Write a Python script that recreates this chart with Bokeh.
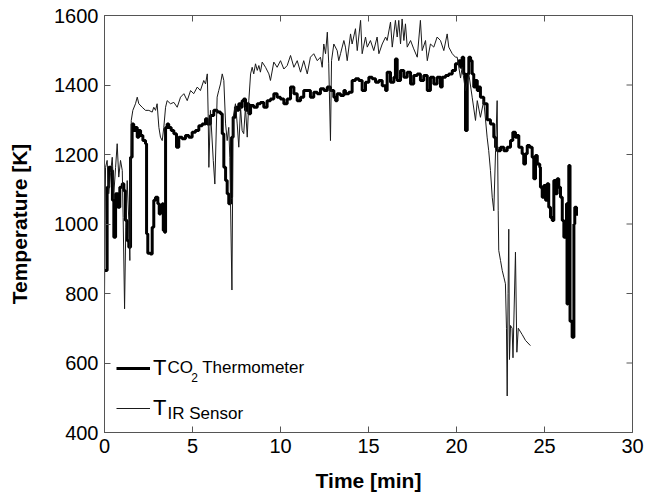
from bokeh.plotting import figure
from bokeh.models import FixedTicker, Range1d, Legend, LegendItem, Label
from bokeh.embed import file_html
from bokeh.resources import INLINE

# ---- data (time in min, temperature in K) ----
x_ticks = [0, 5, 10, 15, 20, 25, 30]
y_ticks = [400, 600, 800, 1000, 1200, 1400, 1600]

co2_points = [
    (0.00, 866), (0.11, 866), (0.15, 1106), (0.24, 1163), (0.38, 1154), (0.45, 1068), (0.53, 962),
    (0.63, 1087), (0.76, 1048), (0.87, 1106), (1.01, 1116), (1.10, 1096), (1.19, 1010), (1.29, 952),
    (1.38, 933), (1.48, 1192), (1.57, 1288), (1.66, 1269), (1.76, 1278), (1.86, 1250), (1.95, 1269),
    (2.05, 1255), (2.18, 1240), (2.33, 1231), (2.39, 972), (2.46, 916), (2.61, 914), (2.71, 991),
    (2.80, 1068), (2.90, 1077), (3.03, 1058), (3.11, 1029), (3.18, 1048), (3.28, 1058), (3.34, 981),
    (3.41, 976), (3.47, 1278), (3.56, 1288), (3.65, 1278), (3.79, 1269), (3.94, 1260), (4.09, 1221),
    (4.22, 1250), (4.41, 1245), (4.60, 1255), (4.79, 1250), (4.98, 1264), (5.17, 1269), (5.36, 1283),
    (5.55, 1288), (5.74, 1303), (5.84, 1288), (6.02, 1312), (6.21, 1327), (6.40, 1322), (6.59, 1317),
    (6.69, 1260), (6.78, 1163), (6.88, 1125), (6.97, 1087), (7.06, 1058), (7.16, 1077), (7.22, 1250),
    (7.31, 1307), (7.44, 1336), (7.54, 1327), (7.63, 1346), (7.73, 1336), (7.82, 1355), (7.91, 1360),
    (8.01, 1327), (8.11, 1346), (8.20, 1317), (8.30, 1341), (8.48, 1336), (8.68, 1346), (8.86, 1350),
    (9.05, 1336), (9.24, 1355), (9.43, 1360), (9.62, 1375), (9.81, 1365), (10.00, 1360), (10.19, 1346),
    (10.38, 1360), (10.57, 1394), (10.76, 1375), (10.95, 1355), (11.14, 1365), (11.32, 1384),
    (11.52, 1384), (11.70, 1365), (11.89, 1379), (12.09, 1375), (12.27, 1389), (12.47, 1384),
    (12.66, 1394), (12.84, 1384), (13.03, 1365), (13.13, 1355), (13.22, 1375), (13.41, 1370),
    (13.60, 1384), (13.69, 1375), (13.88, 1379), (14.07, 1413), (14.26, 1418), (14.45, 1413),
    (14.64, 1384), (14.83, 1408), (15.02, 1422), (15.21, 1418), (15.40, 1408), (15.59, 1413),
    (15.78, 1398), (15.97, 1384), (16.06, 1437), (16.25, 1408), (16.44, 1422), (16.53, 1475),
    (16.63, 1413), (16.82, 1442), (17.01, 1422), (17.20, 1437), (17.39, 1403), (17.57, 1427),
    (17.77, 1432), (17.95, 1413), (18.14, 1427), (18.34, 1384), (18.52, 1422), (18.71, 1403),
    (18.90, 1422), (19.09, 1394), (19.19, 1422), (19.38, 1427), (19.56, 1432), (19.76, 1442),
    (19.94, 1461), (20.13, 1470), (20.23, 1451), (20.32, 1480), (20.41, 1432), (20.51, 1269),
    (20.61, 1432), (20.70, 1480), (20.80, 1470), (20.89, 1432), (20.98, 1394), (21.08, 1413),
    (21.18, 1384), (21.27, 1394), (21.36, 1365), (21.55, 1346), (21.74, 1300), (21.93, 1288),
    (22.12, 1250), (22.22, 1221), (22.31, 1211), (22.50, 1221), (22.69, 1211), (22.88, 1221),
    (23.07, 1240), (23.20, 1264), (23.35, 1250), (23.45, 1255), (23.54, 1221), (23.73, 1202),
    (23.82, 1173), (23.92, 1202), (24.02, 1226), (24.16, 1221), (24.30, 1192), (24.39, 1130),
    (24.49, 1197), (24.59, 1173), (24.73, 1163), (24.77, 1106), (24.87, 1077), (24.96, 1111),
    (25.06, 1068), (25.15, 1116), (25.24, 1048), (25.34, 1019), (25.44, 1010), (25.53, 1125),
    (25.63, 1087), (25.72, 1130), (25.81, 1106), (25.91, 1077), (26.01, 1010), (26.10, 962),
    (26.19, 1000), (26.25, 1058), (26.28, 770), (26.32, 780), (26.38, 1168), (26.45, 720),
    (26.57, 674), (26.67, 1000), (26.72, 1048), (26.82, 1024),
]

ir_points = [
    (0.00, 785), (0.03, 1010), (0.06, 1163), (0.15, 1183), (0.24, 1087), (0.34, 1144), (0.44, 1192),
    (0.53, 1087), (0.63, 1163), (0.72, 1231), (0.81, 1135), (0.91, 1183), (1.01, 1154), (1.06, 1019),
    (1.14, 756), (1.21, 991), (1.29, 1125), (1.38, 1010), (1.44, 895), (1.52, 1298), (1.61, 1327),
    (1.76, 1346), (1.86, 1365), (1.95, 1346), (2.14, 1336), (2.33, 1327), (2.52, 1327), (2.71, 1322),
    (2.80, 1336), (2.90, 1327), (2.99, 1346), (3.09, 1278), (3.18, 1250), (3.28, 1240), (3.37, 1278),
    (3.47, 1336), (3.56, 1355), (3.75, 1346), (3.94, 1350), (4.13, 1336), (4.32, 1365), (4.51, 1375),
    (4.70, 1355), (4.89, 1384), (5.07, 1375), (5.27, 1394), (5.45, 1384), (5.64, 1413), (5.74, 1403),
    (5.84, 1432), (5.89, 1317), (5.93, 1163), (6.02, 1327), (6.18, 1183), (6.27, 1115), (6.40, 1365),
    (6.49, 1384), (6.59, 1403), (6.69, 1432), (6.78, 1413), (6.88, 1288), (6.97, 1240), (7.06, 1278),
    (7.12, 1192), (7.24, 810), (7.31, 1307), (7.44, 1346), (7.54, 1288), (7.63, 1221), (7.73, 1336),
    (7.82, 1269), (7.91, 1260), (8.01, 1336), (8.11, 1250), (8.20, 1355), (8.30, 1432), (8.39, 1451),
    (8.48, 1432), (8.58, 1461), (8.68, 1442), (8.77, 1456), (8.86, 1437), (8.96, 1466), (9.15, 1451),
    (9.34, 1432), (9.43, 1413), (9.62, 1466), (9.81, 1451), (10.00, 1470), (10.19, 1446),
    (10.38, 1456), (10.57, 1485), (10.76, 1451), (10.95, 1470), (11.14, 1437), (11.32, 1470),
    (11.52, 1432), (11.70, 1480), (11.89, 1490), (12.09, 1470), (12.27, 1480), (12.37, 1451),
    (12.46, 1518), (12.56, 1490), (12.66, 1552), (12.74, 1461), (12.84, 1240), (12.90, 1470),
    (13.03, 1518), (13.22, 1499), (13.31, 1470), (13.41, 1490), (13.60, 1528), (13.69, 1509),
    (13.79, 1470), (13.98, 1547), (14.07, 1518), (14.26, 1562), (14.36, 1499), (14.55, 1586),
    (14.64, 1490), (14.83, 1538), (14.93, 1509), (15.11, 1528), (15.30, 1499), (15.49, 1538),
    (15.59, 1490), (15.78, 1518), (15.97, 1538), (16.06, 1528), (16.25, 1581), (16.35, 1509),
    (16.53, 1586), (16.63, 1538), (16.72, 1586), (16.82, 1518), (16.91, 1590), (17.01, 1528),
    (17.10, 1576), (17.20, 1509), (17.39, 1528), (17.57, 1504), (17.77, 1480), (17.95, 1586),
    (18.05, 1499), (18.24, 1528), (18.34, 1470), (18.52, 1518), (18.71, 1509), (18.90, 1538),
    (19.09, 1528), (19.28, 1499), (19.47, 1547), (19.56, 1509), (19.76, 1490), (19.94, 1480),
    (20.04, 1480), (20.23, 1420), (20.32, 1451), (20.51, 1384), (20.70, 1432), (20.89, 1365),
    (21.08, 1298), (21.18, 1355), (21.36, 1307), (21.55, 1355), (21.74, 1250), (21.83, 1211),
    (21.93, 1154), (22.03, 1077), (22.12, 1038), (22.22, 1211), (22.31, 1355), (22.37, 1038),
    (22.40, 924), (22.50, 895), (22.60, 866), (22.69, 847), (22.78, 828), (22.84, 700), (22.88, 505),
    (22.93, 800), (22.97, 985), (23.01, 610), (23.07, 708), (23.16, 700), (23.21, 615), (23.35, 919),
    (23.43, 631), (23.51, 700), (23.73, 682), (23.92, 665), (24.20, 650),
]

co2_time = [p_[0] for p_ in co2_points]
co2_temp = [p_[1] for p_ in co2_points]
ir_time = [p_[0] for p_ in ir_points]
ir_temp = [p_[1] for p_ in ir_points]

FONT = "Liberation Sans"
AX = "#555555"
X0, X1, Y0, Y1 = 0, 30, 400, 1600
FRAME_W, FRAME_H, TICK_PX = 528, 417, 6

p = figure(width=648, height=494, output_backend="svg", toolbar_location=None,
           x_range=Range1d(X0, X1), y_range=Range1d(Y0, Y1),
           min_border_left=104, min_border_right=16, min_border_top=15, min_border_bottom=62)
p.grid.visible = False
p.outline_line_color = AX
p.outline_line_width = 1
p.background_fill_color = "white"
p.border_fill_color = "white"

for ax, ticks in ((p.xaxis[0], x_ticks), (p.yaxis[0], y_ticks)):
    ax.ticker = FixedTicker(ticks=ticks)
    ax.axis_line_color = AX
    ax.major_tick_line_color = AX
    ax.major_tick_in = TICK_PX
    ax.major_tick_out = 0
    ax.minor_tick_line_color = None
    ax.major_label_text_font = FONT
    ax.major_label_text_color = "black"
    ax.major_label_text_font_size = "20px"
    ax.major_label_standoff = 6
    ax.axis_label_text_font = FONT
    ax.axis_label_text_font_style = "bold"
    ax.axis_label_text_font_size = "21px"
    ax.axis_label_text_color = "black"
p.xaxis[0].axis_label = "Time [min]"
p.yaxis[0].axis_label = "Temperature [K]"
p.xaxis[0].axis_label_standoff = 13
p.yaxis[0].axis_label_standoff = 20

# mirrored inward ticks on the top and right edges of the box
dy = TICK_PX * (Y1 - Y0) / FRAME_H
dx = TICK_PX * (X1 - X0) / FRAME_W
p.segment(x0=x_ticks, y0=[Y1] * len(x_ticks), x1=x_ticks, y1=[Y1 - dy] * len(x_ticks),
          line_color=AX, line_width=1)
p.segment(x0=[X1] * len(y_ticks), y0=y_ticks, x1=[X1 - dx] * len(y_ticks), y1=y_ticks,
          line_color=AX, line_width=1)

r_co2 = p.step(co2_time, co2_temp, mode="after", line_width=3, line_color="black")
r_ir = p.line(ir_time, ir_temp, line_width=1, line_color="#1a1a1a")

legend = Legend(items=[LegendItem(label="T", renderers=[r_co2]),
                       LegendItem(label="T", renderers=[r_ir])],
                location=(12, 5), orientation="vertical",
                glyph_width=34, glyph_height=38, label_height=26, label_width=10,
                label_standoff=3, spacing=2, padding=4, margin=0,
                border_line_color=None, background_fill_alpha=0,
                label_text_font=FONT, label_text_font_size="22px",
                label_text_color="black")
p.add_layout(legend)

sub_labels = [
    ("CO", 3.58, 587, "17px"),
    ("2", 4.93, 557, "12px"),
    ("Thermometer", 5.55, 587, "17px"),
    ("IR Sensor", 3.58, 454, "17px"),
]
for txt, lx, ly, fs in sub_labels:
    p.add_layout(Label(x=lx, y=ly, text=txt, text_font=FONT, text_font_size=fs,
                       text_baseline="alphabetic", text_align="left", text_color="black"))

open("out.html", "w").write(file_html(p, INLINE))
